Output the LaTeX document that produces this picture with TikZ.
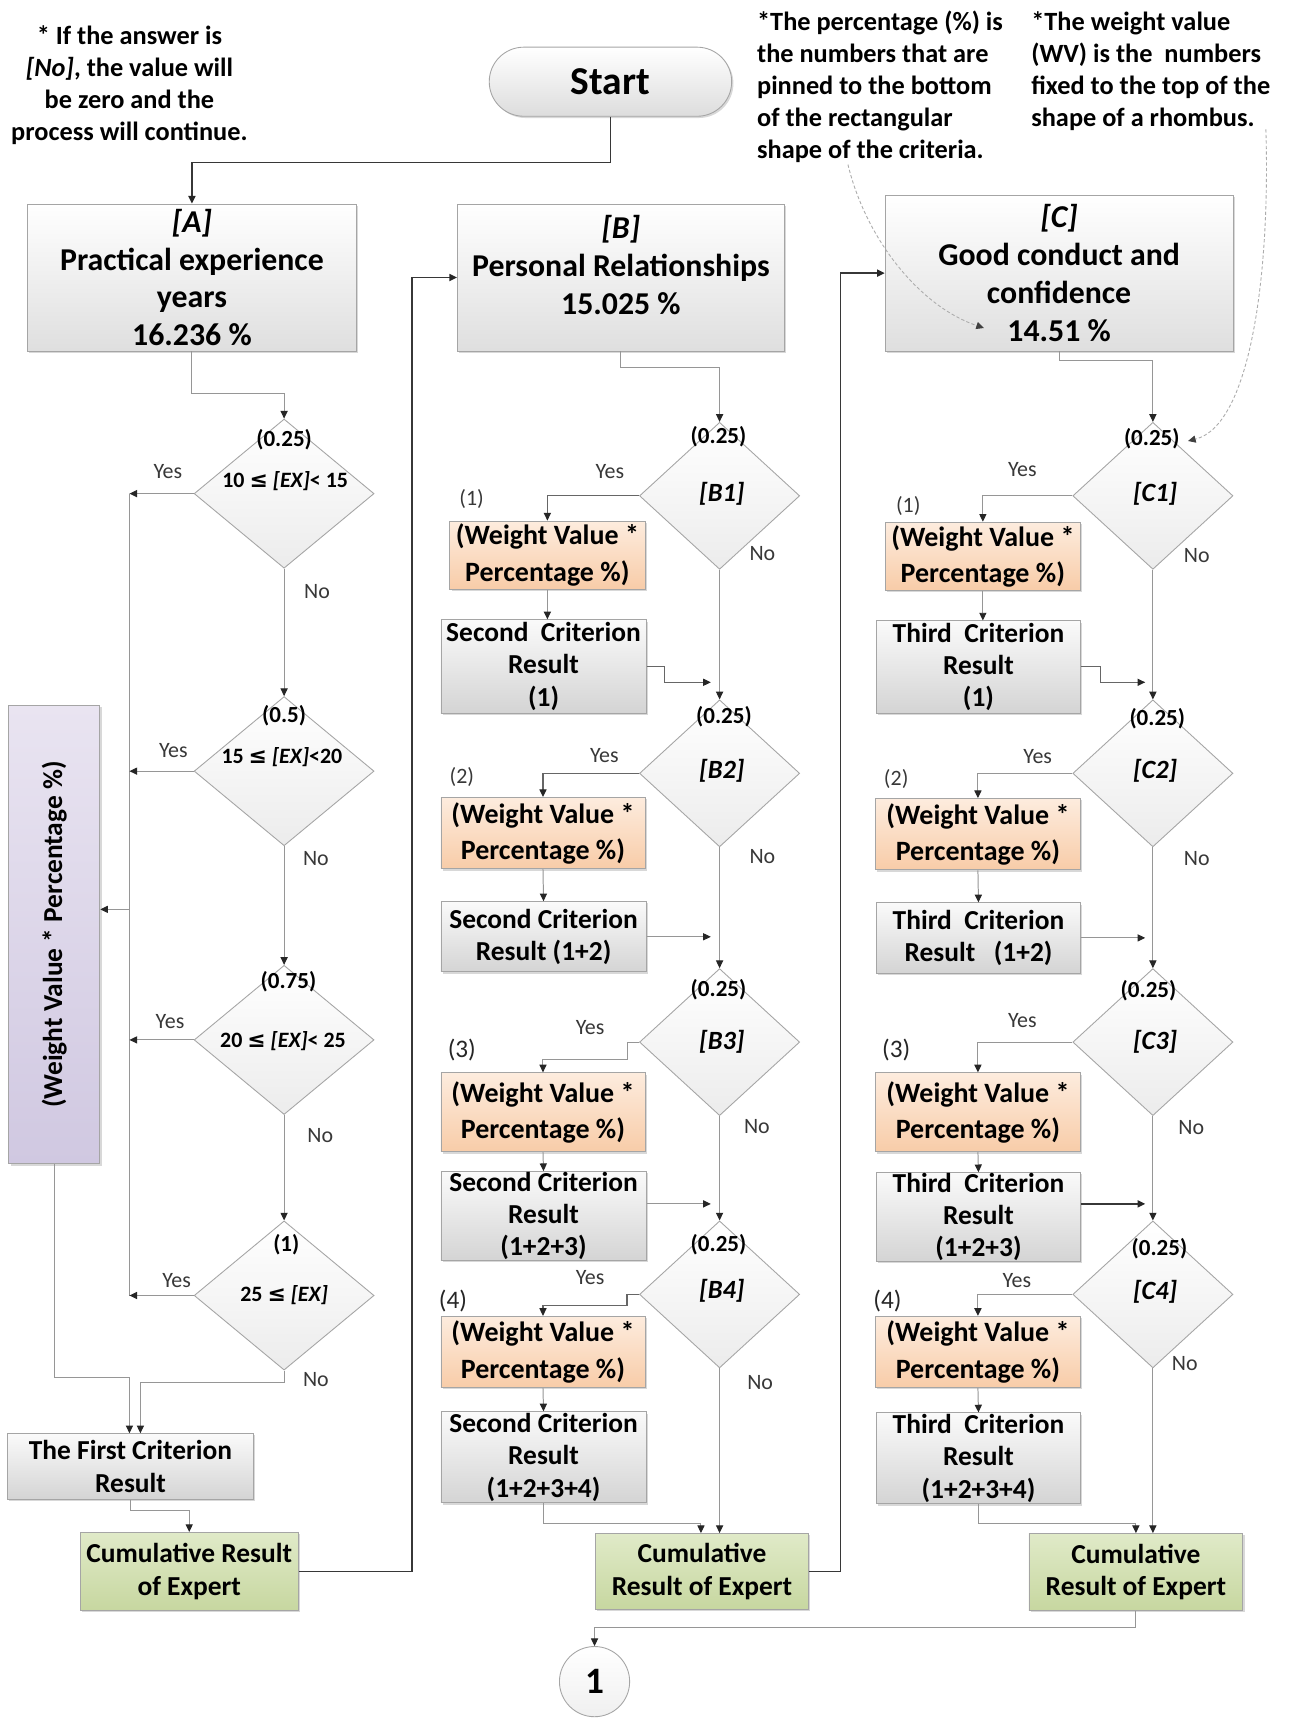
\documentclass[tikz,border=0pt]{standalone}
\usepackage{fontspec}
\setmainfont{Carlito}
\newfontfamily\symf{DejaVu Sans}
\usetikzlibrary{shapes.geometric,shapes.misc,arrows.meta,shadows}

\definecolor{lineg}{RGB}{150,150,150}
\definecolor{lined}{RGB}{55,55,55}
\definecolor{edgeg}{RGB}{165,165,165}
\definecolor{peachT}{RGB}{253,236,222}
\definecolor{peachB}{RGB}{248,204,168}
\definecolor{greenT}{RGB}{224,234,200}
\definecolor{greenB}{RGB}{199,215,160}
\definecolor{lilacT}{RGB}{233,228,241}
\definecolor{lilacB}{RGB}{208,200,225}
\definecolor{greyT}{RGB}{250,250,250}
\definecolor{greyB}{RGB}{212,212,212}

\newcommand{\lesym}{{\symf\bfseries ≤}}

\tikzset{
  shadowed/.style={drop shadow={shadow xshift=1.6pt, shadow yshift=-1.6pt, opacity=0.3}},
  boxbase/.style={rectangle, draw=edgeg, line width=0.8pt, inner sep=0pt, align=center, shadowed},
  titlefont/.style={font=\bfseries\fontsize{29}{34.5}\selectfont},
  titlebox/.style={boxbase, top color=white, bottom color=greyB!75, titlefont},
  titletext/.style={inner sep=0pt, align=center, titlefont},
  startbox/.style={rounded rectangle, draw=edgeg, line width=0.8pt, top color=white, bottom color=greyB!80, shadowed,
    minimum width=221pt, minimum height=63pt, inner sep=0pt, font=\bfseries\fontsize{36}{36}\selectfont},
  weightbox/.style={boxbase, top color=peachT, bottom color=peachB, font=\bfseries\fontsize{25.5}{33}\selectfont},
  resultbox/.style={boxbase, top color=greyT, bottom color=greyB, font=\bfseries\fontsize{25}{29.5}\selectfont},
  cumbox/.style={boxbase, top color=greenT, bottom color=greenB, font=\bfseries\fontsize{25}{29.5}\selectfont},
  lilacbox/.style={boxbase, top color=lilacT, bottom color=lilacB},
  decision/.style={diamond, draw=edgeg, line width=0.8pt, top color=white, bottom color=gray!15, inner sep=0pt},
  wv/.style={inner sep=0pt, font=\bfseries\fontsize{21}{21}\selectfont},
  cond/.style={inner sep=0pt, font=\bfseries\fontsize{20}{20}\selectfont},
  crit/.style={inner sep=0pt, font=\bfseries\itshape\fontsize{24}{24}\selectfont},
  answer/.style={inner sep=0pt, text=black!78, font=\fontsize{20}{20}\selectfont},
  idx/.style={inner sep=0pt, text=black!78, font=\fontsize{20}{20}\selectfont},
  idxbig/.style={inner sep=0pt, text=black!85, font=\fontsize{23}{23}\selectfont},
  note/.style={inner sep=0pt, font=\bfseries\fontsize{24}{29.2}\selectfont},
  endcircle/.style={circle, draw=edgeg, line width=0.8pt, top color=white, bottom color=gray!12,
    minimum size=64pt, inner sep=0pt, font=\bfseries\fontsize{34}{34}\selectfont},
  plainline/.style={draw=lineg, line width=0.9pt},
  flow/.style={draw=lineg, line width=0.9pt, -{Triangle[length=7pt,width=6.5pt,color=black!85]}},
  flowm/.style={flow, draw=black!60, line width=1pt},
  flowd/.style={flow, draw=lined, line width=1.3pt},
  hint/.style={draw=gray!65, densely dashed, line width=0.8pt, -{Triangle[length=7pt,width=6.5pt,color=black!75]}}
}

\begin{document}
\begin{tikzpicture}[x=1pt,y=-1pt]
\fill[white] (0,0) rectangle (1177,1568);
\useasboundingbox (0,0) rectangle (1177,1568);

% ---------- notes ----------
\node[note, align=center] (noteNo) at (118,78) {* If the answer is\\\textit{[No]}, the value will\\be zero and the\\process will continue.};
\node[note, align=left, anchor=west] (notePct) at (690,79) {*The percentage (\%) is\\the numbers that are\\pinned to the bottom\\of the rectangular\\shape of the criteria.};
\node[note, align=left, anchor=west] (noteWV) at (940,64.5) {*The weight value\\(WV) is the\ \ numbers\\fixed to the top of the\\shape of a rhombus.};

% ---------- start and criteria headers ----------
\node[startbox] (start) at (556.5,74.5) {Start};
\node[titlebox, minimum width=300pt, minimum height=134pt] (nA) at (175,253) {\textit{[A]}\\Practical experience\\years\\16.236 \%};
\node[titlebox, minimum width=298pt, minimum height=134pt] (nB) at (566,253) {};
\node[titletext] (nBt) at (566,241.5) {\textit{[B]}\\Personal Relationships\\15.025 \%};
\node[titlebox, minimum width=317pt, minimum height=142pt] (nC) at (965.5,249) {\textit{[C]}\\Good conduct and\\confidence\\14.51 \%};

% ---------- column A ----------
\node[decision, minimum width=164pt, minimum height=136pt] (A1) at (259,450) {};
\node[decision, minimum width=164pt, minimum height=136pt] (A2) at (259,703) {};
\node[decision, minimum width=164pt, minimum height=136pt] (A3) at (259,948) {};
\node[decision, minimum width=164pt, minimum height=136pt] (A4) at (259,1181) {};
\node[wv] (A1w) at (259,401) {(0.25)};
\node[wv] (A2w) at (259,652) {(0.5)};
\node[wv] (A3w) at (263,895) {(0.75)};
\node[wv] (A4w) at (261,1135) {(1)};
\node[cond] (A1c) at (260,439) {10 \lesym{} \textit{[EX]}< 15};
\node[cond] (A2c) at (257,690) {15 \lesym{} \textit{[EX]}<20};
\node[cond] (A3c) at (258,949) {20 \lesym{} \textit{[EX]}< 25};
\node[cond] (A4c) at (259,1181) {25 \lesym{} \textit{[EX]}};
\node[answer] (A1y) at (153,430) {Yes};
\node[answer] (A2y) at (158,684) {Yes};
\node[answer] (A3y) at (155,931) {Yes};
\node[answer] (A4y) at (161,1167) {Yes};
\node[answer] (A1n) at (289,539) {No};
\node[answer] (A2n) at (288,783) {No};
\node[answer] (A3n) at (292,1035) {No};
\node[answer] (A4n) at (288,1258) {No};

\node[lilacbox, minimum width=83pt, minimum height=418pt] (P) at (49.5,852) {};
\node[rotate=90, inner sep=0pt, font=\bfseries\fontsize{25}{25}\selectfont] (Pt) at (49.5,852) {(Weight Value * Percentage \%)};
\node[resultbox, minimum width=224pt, minimum height=60pt] (FC) at (119,1337) {The First Criterion\\Result};
\node[cumbox, minimum width=199pt, minimum height=71pt] (CumA) at (172.5,1432.5) {Cumulative Result\\of Expert};

\coordinate (coltop) at (118,450);
\coordinate (colbot) at (118,1181);
\coordinate (colmid) at (118,829);

\draw[flowd] (start.south) -- ++(0,42) -| (nA.north);
\draw[flow] (nA.south) -- ++(0,38) -| (A1.north);
\draw[flow] (A1.south) -- (A2.north);
\draw[flow] (A2.south) -- (A3.north);
\draw[flow] (A3.south) -- (A4.north);
\draw[plainline] (coltop) -- (colbot);
\draw[flow] (A1.west) -- (A1.west -| coltop);
\draw[flow] (A2.west) -- (A2.west -| coltop);
\draw[flow] (A3.west) -- (A3.west -| coltop);
\draw[flow] (A4.west) -- (A4.west -| coltop);
\draw[flow] (colmid) -- (colmid -| P.east);
\draw[flow] (P.south) -- ++(0,194) -| ([xshift=-1pt]FC.north);
\draw[flow] (A4.south) -- ++(0,11) -| ([xshift=9pt]FC.north);
\draw[flow] (FC.south) -- ++(0,10) -| (CumA.north);
\draw[flowd] (CumA.east) -- ++(103,0) |- (nB.west);

% ---------- column B ----------
\node[decision, minimum width=146pt, minimum height=134pt] (B1) at (656,452) {};
\node[decision, minimum width=146pt, minimum height=134pt] (B2) at (656,705) {};
\node[decision, minimum width=146pt, minimum height=134pt] (B3) at (656,950) {};
\node[decision, minimum width=146pt, minimum height=134pt] (B4) at (656,1180) {};
\node[wv] (B1w) at (655,398) {(0.25)};
\node[wv] (B2w) at (660,653) {(0.25)};
\node[wv] (B3w) at (655,902) {(0.25)};
\node[wv] (B4w) at (655,1135) {(0.25)};
\node[crit] (B1c) at (658,450) {[B1]};
\node[crit] (B2c) at (658,703) {[B2]};
\node[crit] (B3c) at (658,950) {[B3]};
\node[crit] (B4c) at (658,1177) {[B4]};
\node[answer] (B1y) at (556,430) {Yes};
\node[answer] (B2y) at (551,689) {Yes};
\node[answer] (B3y) at (538,937) {Yes};
\node[answer] (B4y) at (538,1165) {Yes};
\node[answer] (B1n) at (695,505) {No};
\node[answer] (B2n) at (695,781) {No};
\node[answer] (B3n) at (690,1027) {No};
\node[answer] (B4n) at (693,1260) {No};
\node[idx] (B1i) at (430,455) {(1)};
\node[idx] (B2i) at (421,708) {(2)};
\node[idxbig] (B3i) at (421,957) {(3)};
\node[idxbig] (B4i) at (413,1186) {(4)};

\node[weightbox, minimum width=178pt, minimum height=62pt] (WB1) at (499,506) {(Weight Value *\\Percentage \%)};
\node[weightbox, minimum width=186pt, minimum height=65pt] (WB2) at (495,759.5) {(Weight Value *\\Percentage \%)};
\node[weightbox, minimum width=186pt, minimum height=72pt] (WB3) at (495,1014) {(Weight Value *\\Percentage \%)};
\node[weightbox, minimum width=186pt, minimum height=65pt] (WB4) at (495,1232.5) {(Weight Value *\\Percentage \%)};
\node[resultbox, minimum width=187pt, minimum height=85pt] (RB1) at (495.5,607.5) {Second\ \ Criterion\\Result\\(1)};
\node[resultbox, minimum width=187pt, minimum height=64pt] (RB2) at (495.5,854) {Second Criterion\\Result (1+2)};
\node[resultbox, minimum width=187pt, minimum height=81pt] (RB3) at (495.5,1108.5) {Second Criterion\\Result\\(1+2+3)};
\node[resultbox, minimum width=187pt, minimum height=83pt] (RB4) at (495.5,1328.5) {Second Criterion\\Result\\(1+2+3+4)};
\node[cumbox, minimum width=194pt, minimum height=69pt] (CumB) at (640,1432.5) {Cumulative\\Result of Expert};

\coordinate (jb1) at (648,622);

\draw[flow] (nB.south) -- ++(0,15) -| (B1.north);
\draw[flow] (B1.south) -- (B2.north);
\draw[flow] (B2.south) -- (B3.north);
\draw[flow] (B3.south) -- (B4.north);
\draw[flow] (B4.south) -- (B4.south |- CumB.north);
\draw[flowm] (B1.west) -| (WB1.north);
\draw[flowm] (B2.west) -| (WB2.north);
\draw[flow] (B3.west) -- ++(-11,0) -- ++(0,16) -| (WB3.north);
\draw[flowm] (B4.west) -- ++(-11,0) -- ++(0,10) -| (WB4.north);
\draw[flow] (WB1.south) -- (WB1.south |- RB1.north);
\draw[flow] (WB2.south) -- (RB2.north);
\draw[flow] (WB3.south) -- (RB3.north);
\draw[flow] (WB4.south) -- (RB4.north);
\draw[flowm] (RB1.east) -- ++(16,0) |- (jb1);
\draw[flow] (RB2.east) -- (RB2.east -| jb1);
\draw[flow] ([yshift=11pt]RB3.east) -- ([yshift=11pt]RB3.east -| jb1);
\draw[flow] (RB4.south) -- ++(0,18) -| ([xshift=-1pt]CumB.north);
\draw[flowd] (CumB.east) -- ++(29,0) |- (nC.west);

% ---------- column C ----------
\node[decision, minimum width=146pt, minimum height=134pt] (C1) at (1051,452) {};
\node[decision, minimum width=146pt, minimum height=134pt] (C2) at (1051,705) {};
\node[decision, minimum width=146pt, minimum height=134pt] (C3) at (1051,950) {};
\node[decision, minimum width=146pt, minimum height=134pt] (C4) at (1051,1180) {};
\node[wv] (C1w) at (1050,400) {(0.25)};
\node[wv] (C2w) at (1055,655) {(0.25)};
\node[wv] (C3w) at (1047,903) {(0.25)};
\node[wv] (C4w) at (1057,1138) {(0.25)};
\node[crit] (C1c) at (1053,450) {[C1]};
\node[crit] (C2c) at (1053,703) {[C2]};
\node[crit] (C3c) at (1053,950) {[C3]};
\node[crit] (C4c) at (1053,1178) {[C4]};
\node[answer] (C1y) at (932,428) {Yes};
\node[answer] (C2y) at (946,690) {Yes};
\node[answer] (C3y) at (932,930) {Yes};
\node[answer] (C4y) at (927,1167) {Yes};
\node[answer] (C1n) at (1091,506) {No};
\node[answer] (C2n) at (1091,783) {No};
\node[answer] (C3n) at (1086,1028) {No};
\node[answer] (C4n) at (1080,1243) {No};
\node[idx] (C1i) at (828,461) {(1)};
\node[idx] (C2i) at (817,710) {(2)};
\node[idxbig] (C3i) at (817,957) {(3)};
\node[idxbig] (C4i) at (809,1186) {(4)};

\node[weightbox, minimum width=178pt, minimum height=62pt] (WC1) at (896,507) {(Weight Value *\\Percentage \%)};
\node[weightbox, minimum width=187pt, minimum height=65pt] (WC2) at (891.5,760.5) {(Weight Value *\\Percentage \%)};
\node[weightbox, minimum width=187pt, minimum height=72pt] (WC3) at (891.5,1014) {(Weight Value *\\Percentage \%)};
\node[weightbox, minimum width=187pt, minimum height=65pt] (WC4) at (891.5,1232.5) {(Weight Value *\\Percentage \%)};
\node[resultbox, minimum width=186pt, minimum height=84pt] (RC1) at (892,608) {Third\ \ Criterion\\Result\\(1)};
\node[resultbox, minimum width=186pt, minimum height=64pt] (RC2) at (892,855) {Third\ \ Criterion\\Result\ \ \ (1+2)};
\node[resultbox, minimum width=186pt, minimum height=81pt] (RC3) at (892,1109.5) {Third\ \ Criterion\\Result\\(1+2+3)};
\node[resultbox, minimum width=186pt, minimum height=83pt] (RC4) at (892,1329.5) {Third\ \ Criterion\\Result\\(1+2+3+4)};
\node[cumbox, minimum width=195pt, minimum height=70pt] (CumC) at (1035.5,1433) {Cumulative\\Result of Expert};

\node[endcircle] (fin) at (542,1533) {1};

\coordinate (jc1) at (1044,622);

\draw[flow] (nC.south) -- ++(0,8) -| (C1.north);
\draw[flow] (C1.south) -- (C2.north);
\draw[flow] (C2.south) -- (C3.north);
\draw[flow] (C3.south) -- (C4.north);
\draw[flow] (C4.south) -- (C4.south |- CumC.north);
\draw[flow] (C1.west) -| (WC1.north);
\draw[flow] (C2.west) -| (WC2.north);
\draw[flow] (C3.west) -| (WC3.north);
\draw[flow] (C4.west) -| (WC4.north);
\draw[flow] (WC1.south) -- (WC1.south |- RC1.north);
\draw[flow] (WC2.south) -- (RC2.north);
\draw[flow] (WC3.south) -- (RC3.north);
\draw[flow] (WC4.south) -- (RC4.north);
\draw[flowm] (RC1.east) -- ++(18,0) |- (jc1);
\draw[flow] (RC2.east) -- (RC2.east -| jc1);
\draw[flowd] ([yshift=12pt]RC3.east) -- ([yshift=12pt]RC3.east -| jc1);
\draw[flow] (RC4.south) -- ++(0,17) -| (CumC.north);
\draw[flow] (CumC.south) -- ++(0,15) -| (fin.north);

% ---------- explanatory pointers ----------
\coordinate (pctfrom) at (773,150);
\coordinate (pctto) at (897,299);
\coordinate (wvfrom) at (1154,118);
\coordinate (wvto) at (1083,402);
\draw[hint] (pctfrom) .. controls (790,220) and (840,280) .. (pctto);
\draw[hint] (wvfrom) .. controls (1158,250) and (1140,388) .. (wvto);
\end{tikzpicture}
\end{document}
